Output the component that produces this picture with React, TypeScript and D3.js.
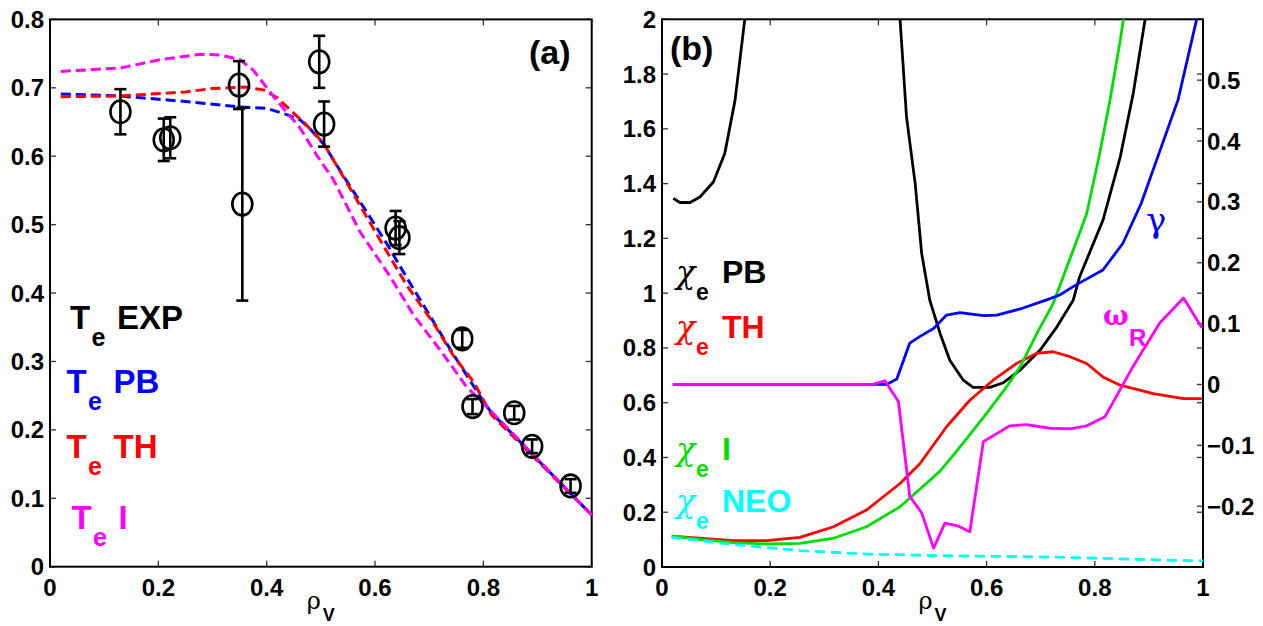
import React from "react";
import * as d3 from "d3";

// ---------- Panel (a): electron temperature profiles ----------
const rhoExp = [0.13, 0.21, 0.222, 0.349, 0.355, 0.497, 0.506, 0.638, 0.645, 0.761, 0.78, 0.857, 0.89, 0.961];
const teExp = [0.665, 0.624, 0.627, 0.704, 0.53, 0.738, 0.647, 0.495, 0.481, 0.333, 0.234, 0.225, 0.176, 0.118];
const teErr = [0.033, 0.031, 0.03, 0.035, 0.141, 0.038, 0.033, 0.025, 0.024, 0.013, 0.011, 0.01, 0.01, 0.01];

const rhoPB = [0.02, 0.13, 0.25, 0.35, 0.4, 0.44, 0.462, 0.48, 0.505, 0.541, 0.585, 0.621, 0.665, 0.708, 0.745, 0.794, 0.815, 1.0];
const tePB = [0.691, 0.688, 0.68, 0.672, 0.67, 0.66, 0.653, 0.64, 0.618, 0.572, 0.518, 0.473, 0.414, 0.358, 0.31, 0.249, 0.225, 0.0756];

const rhoTH = [0.02, 0.13, 0.25, 0.3, 0.36, 0.394, 0.42, 0.443, 0.468, 0.505, 0.554, 0.609, 0.658, 0.708, 0.745, 0.782, 0.815, 1.0];
const teTH = [0.687, 0.688, 0.694, 0.699, 0.701, 0.697, 0.685, 0.668, 0.65, 0.619, 0.553, 0.478, 0.412, 0.356, 0.308, 0.27, 0.222, 0.0756];

const rhoI = [0.02, 0.13, 0.203, 0.277, 0.314, 0.351, 0.375, 0.418, 0.461, 0.492, 0.523, 0.572, 0.628, 0.671, 0.72, 0.769, 0.806, 1.0];
const teI = [0.724, 0.729, 0.741, 0.749, 0.748, 0.741, 0.726, 0.682, 0.642, 0.602, 0.566, 0.49, 0.424, 0.368, 0.317, 0.263, 0.234, 0.0756];

// ---------- Panel (b): diffusivities (left axis), growth rate & frequency (right axis) ----------
const rhoChiPB = [0.021, 0.033, 0.052, 0.07, 0.095, 0.116, 0.135, 0.153, 0.17, 0.43, 0.44, 0.452, 0.468, 0.48, 0.495, 0.514, 0.532, 0.557, 0.575, 0.606, 0.631, 0.662, 0.699, 0.73, 0.76, 0.772, 0.815, 0.847, 0.871, 0.893, 0.91];
const chiPB = [1.346, 1.331, 1.331, 1.351, 1.406, 1.51, 1.704, 2.0, 2.4, 2.4, 2.0, 1.643, 1.4, 1.145, 0.974, 0.853, 0.755, 0.682, 0.656, 0.656, 0.673, 0.719, 0.792, 0.877, 0.974, 1.06, 1.266, 1.497, 1.729, 2.0, 2.3];

const rhoChiTH = [0.018, 0.132, 0.194, 0.255, 0.317, 0.378, 0.44, 0.477, 0.526, 0.569, 0.612, 0.655, 0.692, 0.723, 0.754, 0.785, 0.815, 0.847, 0.908, 0.964, 0.998];
const chiTH = [0.113, 0.096, 0.096, 0.108, 0.147, 0.208, 0.305, 0.378, 0.512, 0.609, 0.682, 0.743, 0.78, 0.786, 0.768, 0.743, 0.694, 0.664, 0.633, 0.615, 0.615];

const rhoChiI = [0.018, 0.07, 0.132, 0.194, 0.255, 0.317, 0.378, 0.44, 0.477, 0.514, 0.551, 0.6, 0.637, 0.662, 0.693, 0.723, 0.76, 0.785, 0.809, 0.828, 0.847, 0.853, 0.87];
const chiI = [0.113, 0.101, 0.089, 0.084, 0.086, 0.105, 0.147, 0.22, 0.285, 0.35, 0.439, 0.561, 0.658, 0.731, 0.853, 0.962, 1.157, 1.29, 1.51, 1.704, 1.923, 2.0, 2.3];

const rhoChiNEO = [0.018, 0.132, 0.255, 0.378, 0.5, 0.723, 1.0];
const chiNEO = [0.108, 0.082, 0.06, 0.047, 0.042, 0.036, 0.022];

const rhoGamma = [0.02, 0.415, 0.434, 0.458, 0.477, 0.502, 0.526, 0.551, 0.594, 0.619, 0.662, 0.711, 0.735, 0.766, 0.815, 0.852, 0.886, 0.92, 0.954, 0.988, 1.0];
const gammaVals = [0, 0, 0.009, 0.068, 0.079, 0.092, 0.114, 0.118, 0.113, 0.114, 0.124, 0.139, 0.147, 0.164, 0.188, 0.232, 0.298, 0.383, 0.468, 0.599, 0.645];

const rhoOmega = [0.02, 0.39, 0.412, 0.437, 0.458, 0.48, 0.502, 0.523, 0.548, 0.569, 0.594, 0.643, 0.674, 0.717, 0.754, 0.785, 0.819, 0.871, 0.92, 0.964, 0.998];
const omegaVals = [0, 0, 0.006, -0.028, -0.184, -0.211, -0.269, -0.228, -0.233, -0.242, -0.094, -0.068, -0.066, -0.072, -0.073, -0.068, -0.053, 0.03, 0.101, 0.142, 0.093];

// ---------- Ticks ----------
const xTicks = [0, 0.2, 0.4, 0.6, 0.8, 1];
const xTickLabels = ["0", "0.2", "0.4", "0.6", "0.8", "1"];
const yTicksA = [0, 0.1, 0.2, 0.3, 0.4, 0.5, 0.6, 0.7, 0.8];
const yTickLabelsA = ["0", "0.1", "0.2", "0.3", "0.4", "0.5", "0.6", "0.7", "0.8"];
const yTicksB = [0, 0.2, 0.4, 0.6, 0.8, 1, 1.2, 1.4, 1.6, 1.8, 2];
const yTickLabelsB = ["0", "0.2", "0.4", "0.6", "0.8", "1", "1.2", "1.4", "1.6", "1.8", "2"];
const yTicksB2 = [-0.2, -0.1, 0, 0.1, 0.2, 0.3, 0.4, 0.5];
const yTickLabelsB2 = ["\u22120.2", "\u22120.1", "0", "0.1", "0.2", "0.3", "0.4", "0.5"];

const FONT = "'Liberation Sans', Arial, Helvetica, sans-serif";
const GREEK = "'DejaVu Serif', 'Liberation Serif', serif";

const W = 1263;
const H = 626;

// panel frames
const A = { x0: 50, x1: 591.7, y0: 19.4, y1: 566.7 };
const B = { x0: 662, x1: 1203, y0: 19.3, y1: 567 };

const xA = d3.scaleLinear().domain([0, 1]).range([A.x0, A.x1]);
const yA = d3.scaleLinear().domain([0, 0.8]).range([A.y1, A.y0]);
const xB = d3.scaleLinear().domain([0, 1]).range([B.x0, B.x1]);
const yB = d3.scaleLinear().domain([0, 2]).range([B.y1, B.y0]);
const yB2 = d3.scaleLinear().domain([-0.3, 0.6]).range([B.y1, B.y0]);

type Sx = (v: number) => number;

function path(xs: number[], ys: number[], sx: Sx, sy: Sx): string {
  const pts: [number, number][] = xs.map((x, i) => [sx(x), sy(ys[i])]);
  return d3.line()(pts) || "";
}

const TICK = 6;
const TICK_STYLE = { stroke: "#333", strokeWidth: 1.3 };

function Frame({ f, sx, sy, yTicks, yLabels }: any) {
  return (
    <g>
      {xTicks.map((t) => (
        <g key={"x" + t}>
          <line x1={sx(t)} x2={sx(t)} y1={f.y1} y2={f.y1 - TICK} {...TICK_STYLE} />
          <line x1={sx(t)} x2={sx(t)} y1={f.y0} y2={f.y0 + TICK} {...TICK_STYLE} />
        </g>
      ))}
      {yTicks.map((t: number) => (
        <g key={"y" + t}>
          <line x1={f.x0} x2={f.x0 + TICK} y1={sy(t)} y2={sy(t)} {...TICK_STYLE} />
          <line x1={f.x1} x2={f.x1 - TICK} y1={sy(t)} y2={sy(t)} {...TICK_STYLE} />
        </g>
      ))}
      <rect x={f.x0} y={f.y0} width={f.x1 - f.x0} height={f.y1 - f.y0} fill="none" stroke="#000" strokeWidth={2} />
      {xTicks.map((t, i) => (
        <text key={"xl" + t} x={sx(t)} y={596} textAnchor="middle" fontSize={24} fontWeight="bold" fontFamily={FONT}>
          {xTickLabels[i]}
        </text>
      ))}
      {yTicks.map((t: number, i: number) => (
        <text key={"yl" + t} x={f.x0 - 6} y={sy(t) + 8.5} textAnchor="end" fontSize={24} fontWeight="bold" fontFamily={FONT}>
          {yLabels[i]}
        </text>
      ))}
      {/* ρ_V axis label */}
      <text x={(f.x0 + f.x1) / 2 - 14} y={609} fontSize={24} fontFamily={GREEK}>ρ</text>
      <text x={(f.x0 + f.x1) / 2 + 2} y={621} fontSize={18} fontWeight="bold" fontFamily={FONT}>V</text>
    </g>
  );
}

// "T_e XXX" style legend entries of panel (a)
const legendA = [
  { name: "EXP", color: "#000", x: 70, y: 329 },
  { name: "PB", color: "#0000ff", x: 66.5, y: 393 },
  { name: "TH", color: "#ff0000", x: 66.5, y: 458 },
  { name: "I", color: "#ff00ff", x: 71.5, y: 529 },
];

// "χ_e XXX" legend entries of panel (b)
const legendB = [
  { name: "PB", color: "#000", x: 676, y: 283 },
  { name: "TH", color: "#ff0000", x: 676, y: 338 },
  { name: "I", color: "#00e000", x: 676, y: 460 },
  { name: "NEO", color: "#00ffff", x: 676, y: 512 },
];

export default function App() {
  const dash = "10,5";
  return (
    <svg width={W} height={H} style={{ position: "absolute", left: 0, top: 0, background: "#fff" }}>
      <defs>
        <clipPath id="clipB">
          <rect x={B.x0} y={B.y0} width={B.x1 - B.x0} height={B.y1 - B.y0} />
        </clipPath>
      </defs>
      <rect x={0} y={0} width={W} height={H} fill="#fff" />

      {/* ---------------- panel (a) ---------------- */}
      <Frame f={A} sx={xA} sy={yA} yTicks={yTicksA} yLabels={yTickLabelsA} />
      <g fill="none" strokeWidth={3} strokeDasharray={dash}>
        <path d={path(rhoPB, tePB, xA, yA)} stroke="#0000ff" />
        <path d={path(rhoTH, teTH, xA, yA)} stroke="#ff0000" />
        <path d={path(rhoI, teI, xA, yA)} stroke="#ff00ff" />
      </g>
      <g stroke="#000" strokeWidth={2.6} fill="none">
        {rhoExp.map((r, i) => {
          const cx = xA(r);
          const lo = yA(teExp[i] - teErr[i]);
          const hi = yA(teExp[i] + teErr[i]);
          return (
            <g key={"e" + i}>
              <line x1={cx} x2={cx} y1={lo} y2={hi} />
              <line x1={cx - 6} x2={cx + 6} y1={lo} y2={lo} />
              <line x1={cx - 6} x2={cx + 6} y1={hi} y2={hi} />
              <ellipse cx={cx} cy={yA(teExp[i])} rx={10} ry={11.3} />
            </g>
          );
        })}
      </g>
      <text x={529} y={64} fontSize={34} fontWeight="bold" fontFamily={FONT}>(a)</text>
      {legendA.map((l) => (
        <g key={"la" + l.name} fill={l.color} fontWeight="bold" fontFamily={FONT}>
          <text x={l.x} y={l.y} fontSize={33}>T</text>
          <text x={l.x + 21.5} y={l.y + 17} fontSize={25}>e</text>
          <text x={l.x + 47} y={l.y} fontSize={33}>{l.name}</text>
        </g>
      ))}

      {/* ---------------- panel (b) ---------------- */}
      {yTicksB2.map((t) => (
        <line key={"r" + t} x1={B.x1} x2={B.x1 - TICK} y1={yB2(t)} y2={yB2(t)} {...TICK_STYLE} />
      ))}
      <Frame f={B} sx={xB} sy={yB} yTicks={yTicksB} yLabels={yTickLabelsB} />
      {yTicksB2.map((t, i) => (
        <text key={"rl" + t} x={B.x1 + 4} y={yB2(t) + 8.5} fontSize={24} fontWeight="bold" fontFamily={FONT}>
          {yTickLabelsB2[i]}
        </text>
      ))}
      <g clipPath="url(#clipB)" fill="none" strokeWidth={2.8} strokeLinejoin="round">
        <path d={path(rhoChiPB, chiPB, xB, yB)} stroke="#000" />
        <path d={path(rhoChiTH, chiTH, xB, yB)} stroke="#ff0000" />
        <path d={path(rhoChiI, chiI, xB, yB)} stroke="#00e000" />
        <path d={path(rhoChiNEO, chiNEO, xB, yB)} stroke="#00ffff" strokeDasharray="10,6" />
        <path d={path(rhoGamma, gammaVals, xB, yB2)} stroke="#0000ff" />
        <path d={path(rhoOmega, omegaVals, xB, yB2)} stroke="#ff00ff" />
      </g>
      <text x={670} y={60} fontSize={34} fontWeight="bold" fontFamily={FONT}>(b)</text>
      {legendB.map((l) => (
        <g key={"lb" + l.name} fill={l.color}>
          <text x={l.x} y={l.y} fontSize={32} fontStyle="italic" fontFamily={GREEK}>χ</text>
          <text x={l.x + 20} y={l.y + 17} fontSize={23} fontWeight="bold" fontFamily={FONT}>e</text>
          <text x={l.x + 46} y={l.y} fontSize={32} fontWeight="bold" fontFamily={FONT}>{l.name}</text>
        </g>
      ))}
      <text x={1146} y={232} fontSize={34} fill="#0000ff" fontFamily={GREEK}>γ</text>
      <g fill="#ff00ff">
        <text x={1103} y={325} fontSize={27} fontWeight="bold" fontFamily={GREEK}>ω</text>
        <text x={1129} y={346} fontSize={24} fontWeight="bold" fontFamily={FONT}>R</text>
      </g>
    </svg>
  );
}
